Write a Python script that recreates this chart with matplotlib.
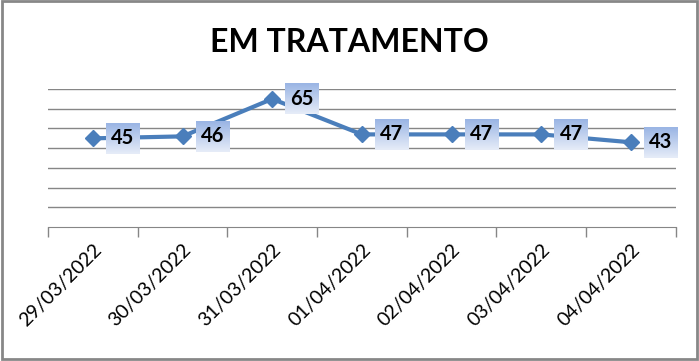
import numpy as np
import matplotlib.pyplot as plt
from matplotlib.patches import Rectangle
from matplotlib.offsetbox import OffsetImage, AnnotationBbox

# data
dates = ['29/03/2022', '30/03/2022', '31/03/2022', '01/04/2022',
         '02/04/2022', '03/04/2022', '04/04/2022']
values = [45, 46, 65, 47, 47, 47, 43]

line_color = '#4A7EBB'
grid_color = '#868686'

plt.rcParams['font.family'] = ['Lato', 'DejaVu Sans']

fig = plt.figure(figsize=(6.99, 3.61), dpi=100)
ax = fig.add_axes([0.0687, 0.371, 0.898, 0.3823])

x = np.arange(len(values))
ax.plot(x, values, color=line_color, linewidth=3, marker='D', markersize=8,
        zorder=3)

ax.set_xlim(-0.5, len(values) - 0.5)
ax.set_ylim(0, 70)
ax.set_yticks(np.arange(10, 71, 10))
ax.yaxis.grid(True, color=grid_color, linewidth=1)
ax.tick_params(axis='y', left=False, labelleft=False)

# category boundaries as tick marks, labels at centres
ax.set_xticks(np.arange(-0.5, len(values), 1))
ax.set_xticklabels([])
ax.tick_params(axis='x', direction='out', length=7, color=grid_color, width=1)
ax.set_xticks(x, minor=True)
ax.set_xticklabels(dates, minor=True, rotation=45, ha='right',
                   rotation_mode='anchor', fontsize=14)
ax.tick_params(axis='x', which='minor', length=0, pad=10)

for s in ['top', 'right', 'left']:
    ax.spines[s].set_visible(False)
ax.spines['bottom'].set_color(grid_color)
ax.set_axisbelow(True)

# gradient label boxes
h, w = 31, 34
top = np.array([0x9A, 0xB5, 0xE4]) / 255
bot = np.array([0xE6, 0xEC, 0xF8]) / 255
t = np.linspace(0, 1, h)[:, None, None]
grad = top * (1 - t) + bot * t
grad = np.repeat(grad, w, axis=1)

for xi, v in zip(x, values):
    img = OffsetImage(grad, zoom=1, dpi_cor=False)
    ab = AnnotationBbox(img, (xi, v), xybox=(30, 0), xycoords='data',
                        boxcoords='offset pixels', frameon=False, pad=0,
                        zorder=4)
    ax.add_artist(ab)
    ax.annotate(str(v), (xi, v), xytext=(30, 0), textcoords='offset pixels',
                ha='center', va='center', fontsize=14.5, fontweight='bold',
                color='black', zorder=5)

fig.text(0.5, 0.882, 'EM TRATAMENTO', ha='center', va='center',
         fontsize=23, fontweight='bold')

fig.patches.append(Rectangle((0.003, 0.006), 0.994, 0.99, transform=fig.transFigure,
                             fill=False, edgecolor='#878787', linewidth=2))

fig.savefig('out.png', dpi=100)
